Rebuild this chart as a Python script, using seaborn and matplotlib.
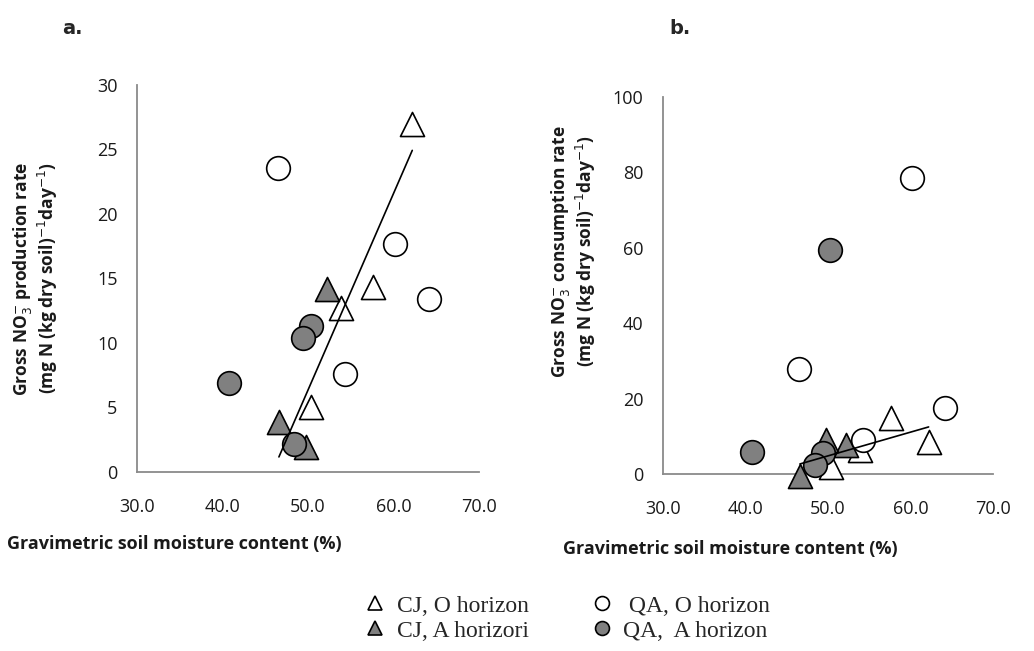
import numpy as np
import pandas as pd
import matplotlib
matplotlib.use("Agg")
import matplotlib.pyplot as plt
from matplotlib.lines import Line2D
import seaborn as sns

# soil moisture (%) per sample, same samples in both panels
cj_o_moist = [62.2, 57.6, 53.9, 50.4]
cj_a_moist = [52.2, 46.6, 49.8]
qa_o_moist = [46.5, 60.2, 64.2, 54.3]
qa_a_moist = [50.3, 49.4, 40.8, 48.4]

# panel a: gross NO3- production
cj_o_prod = [27.0, 14.3, 12.7, 5.0]
cj_a_prod = [14.2, 3.9, 1.9]
qa_o_prod = [23.6, 17.7, 13.4, 7.6]
qa_a_prod = [11.3, 10.4, 6.9, 2.2]

# panel b: gross NO3- consumption
cj_o_cons = [8.5, 14.8, 6.4, 1.9]
cj_a_cons = [7.7, -0.5, 9.0]
qa_o_cons = [27.8, 78.5, 17.5, 9.0]
qa_a_cons = [59.4, 5.6, 5.8, 2.4]

groups = ["CJ, O horizon", "CJ, A horizori", " QA, O horizon", "QA,  A horizon"]

rows = []
for g, xs, ya, yb in zip(groups,
                         [cj_o_moist, cj_a_moist, qa_o_moist, qa_a_moist],
                         [cj_o_prod, cj_a_prod, qa_o_prod, qa_a_prod],
                         [cj_o_cons, cj_a_cons, qa_o_cons, qa_a_cons]):
    for x, a, b in zip(xs, ya, yb):
        rows.append({"group": g, "moist": x, "prod": a, "cons": b})
df = pd.DataFrame(rows)

sns.set_style("white")
plt.rcParams["font.family"] = ["Open Sans", "DejaVu Sans"]

style = {
    groups[0]: dict(marker="^", fc="white", s=300),
    groups[1]: dict(marker="^", fc="#808080", s=300),
    groups[2]: dict(marker="o", fc="white", s=290),
    groups[3]: dict(marker="o", fc="#808080", s=290),
}

fig = plt.figure(figsize=(10.34, 6.51), dpi=100)
ax1 = fig.add_axes([0.1325, 0.275, 0.3307, 0.5945])
ax2 = fig.add_axes([0.6412, 0.272, 0.3191, 0.579])

for ax, ycol, ymax, ystep in [(ax1, "prod", 30, 5), (ax2, "cons", 100, 20)]:
    for g in groups:
        st = style[g]
        sns.scatterplot(data=df[df.group == g], x="moist", y=ycol, ax=ax,
                        marker=st["marker"], color=st["fc"], s=st["s"],
                        edgecolor="black", linewidth=1.2, zorder=3)
    # linear fit through the CJ samples only
    cj = df[df.group.str.startswith("CJ")]
    sns.regplot(data=cj, x="moist", y=ycol, ax=ax, scatter=False, ci=None,
                truncate=True, line_kws=dict(color="black", lw=1.2, zorder=4))
    ax.set_xlim(30, 70)
    ax.set_ylim(0, ymax)
    ax.set_xticks(np.arange(30, 71, 10))
    ax.set_xticklabels([f"{v:.1f}" for v in np.arange(30, 71, 10)])
    ax.set_yticks(np.arange(0, ymax + 1, ystep))
    for sp in ["top", "right"]:
        ax.spines[sp].set_visible(False)
    for sp in ["left", "bottom"]:
        ax.spines[sp].set_color("#8a8a8a")
        ax.spines[sp].set_linewidth(1.3)
    ax.tick_params(axis="both", labelsize=13, length=6, width=1.1,
                   color="#8a8a8a", direction="out", labelcolor="#1a1a1a")
    ax.tick_params(axis="x", pad=13)
    ax.tick_params(axis="y", pad=8)
    ax.set_xlabel("Gravimetric soil moisture content (%)", fontsize=13,
                  fontweight="bold", color="#1a1a1a")
    for c in ax.collections:
        c.set_clip_on(False)

ax1.set_ylabel("Gross NO$_3^{-}$ production rate\n(mg N (kg dry soil)$^{-1}$day$^{-1}$)",
               fontsize=12.5, fontweight="bold", color="#1a1a1a", linespacing=1.1)
ax2.set_ylabel("Gross NO$_3^{-}$ consumption rate\n(mg N (kg dry soil)$^{-1}$day$^{-1}$)",
               fontsize=12.5, fontweight="bold", color="#1a1a1a", linespacing=1.1)
ax1.yaxis.set_label_coords(-0.225, 0.5)
ax2.yaxis.set_label_coords(-0.197, 0.59)
ax1.xaxis.set_label_coords(0.11, -0.163)
ax2.xaxis.set_label_coords(0.203, -0.175)

fig.text(0.06, 0.948, "a.", fontsize=14, fontweight="bold", family="Liberation Sans Narrow")
fig.text(0.647, 0.948, "b.", fontsize=14, fontweight="bold", family="Liberation Sans Narrow")

handles = [Line2D([], [], ls="", marker=style[g]["marker"], markerfacecolor=style[g]["fc"],
                  markeredgecolor="black", markersize=10, markeredgewidth=1.2) for g in groups]
fig.legend(handles, groups, ncol=2,
           loc="center", bbox_to_anchor=(0.548, 0.05), frameon=False,
           prop=dict(family="Liberation Serif", size=17),
           handletextpad=0.4, columnspacing=2.6, labelspacing=0.15, handlelength=1.0)

fig.savefig("out.png", dpi=100)
